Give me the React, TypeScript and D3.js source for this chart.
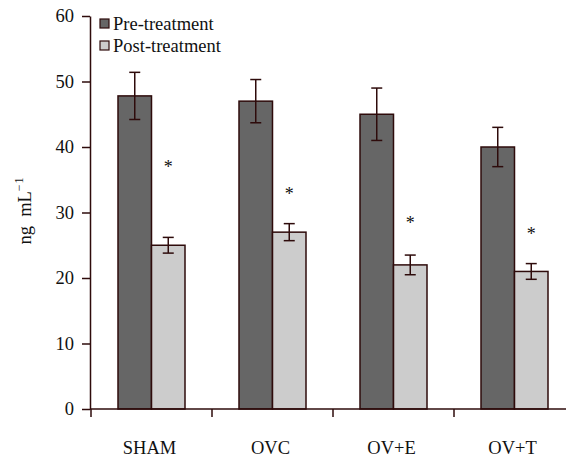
import React, { useRef, useEffect } from 'react';
import * as d3 from 'd3';

// Data
const groups = ['SHAM', 'OVC', 'OV+E', 'OV+T'];
const seriesNames = ['Pre-treatment', 'Post-treatment'];
const preValues = [47.8, 47, 45, 40];
const preErrors = [3.6, 3.3, 4, 3];
const postValues = [25, 27, 22, 21];
const postErrors = [1.2, 1.3, 1.5, 1.2];
const starLevels = [37.5, 33.3, 28.9, 27.3];
const yTicks = [0, 10, 20, 30, 40, 50, 60];

const App = () => {
  const svgRef = useRef<SVGSVGElement | null>(null);

  useEffect(() => {
    document.body.style.margin = '0';

    const width = 566;
    const height = 459;
    const ink = '#2e0b0b';
    const fills = ['#666666', '#cccccc'];
    const font = '"Liberation Serif", "Times New Roman", serif';

    const x0 = d3.scaleBand<string>()
      .domain(groups)
      .range([91, 575])
      .padding(0);

    const x1 = d3.scaleBand<string>()
      .domain(seriesNames)
      .range([27, 94])
      .padding(0);

    const y = d3.scaleLinear()
      .domain([0, 60])
      .range([409, 16]);

    const svg = d3.select(svgRef.current)
      .attr('width', width)
      .attr('height', height);

    svg.selectAll('*').remove();

    const rows = groups.map((g, i) => ({
      group: g,
      bars: [
        { name: seriesNames[0], value: preValues[i], err: preErrors[i] },
        { name: seriesNames[1], value: postValues[i], err: postErrors[i] },
      ],
      star: starLevels[i],
    }));

    // Bars
    const grp = svg.append('g')
      .selectAll('g')
      .data(rows)
      .enter()
      .append('g')
      .attr('transform', d => `translate(${x0(d.group)},0)`);

    grp.selectAll('rect')
      .data(d => d.bars)
      .enter()
      .append('rect')
      .attr('x', d => x1(d.name)!)
      .attr('y', d => y(d.value))
      .attr('width', x1.bandwidth())
      .attr('height', d => y(0) - y(d.value))
      .attr('fill', (d, i) => fills[i])
      .attr('stroke', ink)
      .attr('stroke-width', 1.5);

    // Error bars
    const eb = grp.selectAll('g.err')
      .data(d => d.bars)
      .enter()
      .append('g')
      .attr('class', 'err')
      .attr('stroke', ink)
      .attr('stroke-width', 1.5);

    const cx = (d: any) => x1(d.name)! + x1.bandwidth() / 2;
    eb.append('line')
      .attr('x1', cx).attr('x2', cx)
      .attr('y1', d => y(d.value + d.err))
      .attr('y2', d => y(d.value - d.err));
    eb.append('line')
      .attr('x1', d => cx(d) - 5.5).attr('x2', d => cx(d) + 5.5)
      .attr('y1', d => y(d.value + d.err))
      .attr('y2', d => y(d.value + d.err));
    eb.append('line')
      .attr('x1', d => cx(d) - 5.5).attr('x2', d => cx(d) + 5.5)
      .attr('y1', d => y(d.value - d.err))
      .attr('y2', d => y(d.value - d.err));

    // Significance stars
    grp.append('text')
      .attr('x', x1(seriesNames[1])! + x1.bandwidth() / 2)
      .attr('y', d => y(d.star) + 9.5)
      .attr('text-anchor', 'middle')
      .attr('font-family', font)
      .attr('font-size', 18)
      .attr('fill', '#111')
      .text('*');

    // Y axis
    const yAxis = svg.append('g')
      .attr('transform', 'translate(90,0)')
      .call(d3.axisLeft(y).tickValues(yTicks).tickSize(8).tickPadding(8).tickSizeOuter(0));
    yAxis.select('.domain').attr('stroke', ink).attr('stroke-width', 1.5);
    yAxis.selectAll('.tick line').attr('stroke', ink).attr('stroke-width', 1.5);
    yAxis.selectAll('.tick text')
      .attr('font-family', font)
      .attr('font-size', 18.5)
      .attr('fill', '#111');

    // X axis
    svg.append('line')
      .attr('x1', 90).attr('x2', width)
      .attr('y1', y(0)).attr('y2', y(0))
      .attr('stroke', ink)
      .attr('stroke-width', 1.5);

    svg.append('g')
      .selectAll('line')
      .data(groups)
      .enter()
      .append('line')
      .attr('x1', d => x0(d)!).attr('x2', d => x0(d)!)
      .attr('y1', y(0)).attr('y2', y(0) + 8)
      .attr('stroke', ink)
      .attr('stroke-width', 1.5);

    svg.append('g')
      .selectAll('text')
      .data(groups)
      .enter()
      .append('text')
      .attr('x', d => x0(d)! + x0.bandwidth() / 2 - 2)
      .attr('y', 454)
      .attr('text-anchor', 'middle')
      .attr('font-family', font)
      .attr('font-size', 18.5)
      .attr('fill', '#111')
      .text(d => d);

    // Y label
    const yl = svg.append('text')
      .attr('transform', 'translate(31,211) rotate(-90)')
      .attr('text-anchor', 'middle')
      .attr('font-family', font)
      .attr('font-size', 18.5)
      .attr('fill', '#111');
    yl.append('tspan').attr('xml:space', 'preserve').text('ng\u00a0\u00a0mL');
    yl.append('tspan').attr('dy', -8).attr('font-size', 12).text('\u2212\u200a1');

    // Legend
    const legend = svg.append('g')
      .selectAll('g')
      .data(seriesNames)
      .enter()
      .append('g')
      .attr('transform', (d, i) => `translate(100,${19 + i * 22})`);
    legend.append('rect')
      .attr('width', 9).attr('height', 9)
      .attr('fill', (d, i) => fills[i])
      .attr('stroke', ink)
      .attr('stroke-width', 1.2);
    legend.append('text')
      .attr('x', 13).attr('y', 11)
      .attr('font-family', font)
      .attr('font-size', 18.5)
      .attr('fill', '#111')
      .text(d => d);
  }, []);

  return <svg ref={svgRef} style={{ display: 'block' }}></svg>;
};

export default App;
